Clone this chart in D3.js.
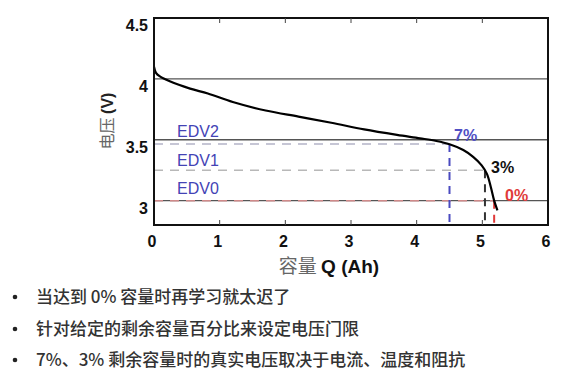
<!DOCTYPE html>
<html><head><meta charset="utf-8">
<script src="https://cdn.jsdelivr.net/npm/d3@7"></script>
<style>
html,body{margin:0;padding:0;background:#fff;}
svg{display:block;}
</style></head>
<body>
<svg id="c" width="583" height="384"></svg>
<script>
// ---- data ----
const capacityQ = [0, 0.03, 0.09, 0.24, 0.55, 0.82, 1.2, 1.7, 2.2, 2.7, 3.2, 3.7, 4.05, 4.3, 4.5, 4.71, 4.86, 4.99, 5.07, 5.13, 5.18, 5.23];
const voltageV  = [4.10, 4.05, 4.02, 3.98, 3.92, 3.88, 3.81, 3.74, 3.69, 3.64, 3.585, 3.54, 3.512, 3.49, 3.463, 3.416, 3.36, 3.29, 3.22, 3.11, 3.0, 2.92];
const xTicks = [0, 1, 2, 3, 4, 5, 6];
const yTicks = [3, 3.5, 4, 4.5];
const gridValues = [3, 3.5, 4];
const edvNames = ["EDV2", "EDV1", "EDV0"];
const edvVoltage = [3.465, 3.25, 3.0];
const edvCapacity = [4.5, 5.04, 5.18];
const edvPercent = ["7%", "3%", "0%"];
const bullets = [
  "当达到 0% 容量时再学习就太迟了",
  "针对给定的剩余容量百分比来设定电压门限",
  "7%、3% 剩余容量时的真实电压取决于电流、温度和阻抗"
];

const svg = d3.select("#c");
const x = d3.scaleLinear().domain([0, 6]).range([154, 548]);
const y = d3.scaleLinear().domain([2.8, 4.5]).range([225, 18]);

const edvColors = ["#4a4ac0", "#333", "#e03a3a"];
const hDashColors = ["#b4b4c8", "#b8b8b8", "#d08a8a"];

// grid lines
svg.append("g").selectAll("line").data(gridValues).join("line")
  .attr("x1", x(0)).attr("x2", x(6))
  .attr("y1", d => y(d)).attr("y2", d => y(d))
  .attr("stroke", "#555").attr("stroke-width", 1.3);

// horizontal dashed EDV lines
svg.append("g").selectAll("line").data(edvVoltage).join("line")
  .attr("x1", x(0)).attr("x2", (d, i) => x(edvCapacity[i]))
  .attr("y1", d => y(d)).attr("y2", d => y(d))
  .attr("stroke", (d, i) => hDashColors[i]).attr("stroke-width", 1.5)
  .attr("stroke-dasharray", "9,7");

// vertical dashed lines
svg.append("g").selectAll("line").data(edvCapacity).join("line")
  .attr("x1", d => x(d)).attr("x2", d => x(d))
  .attr("y1", (d, i) => y(edvVoltage[i])).attr("y2", y(2.8))
  .attr("stroke", (d, i) => edvColors[i]).attr("stroke-width", 2)
  .attr("stroke-dasharray", "8,6");

// curve
const line = d3.line().x(d => x(d[0])).y(d => y(d[1])).curve(d3.curveCatmullRom.alpha(0.5));
svg.append("path").datum(capacityQ.map((q, i) => [q, voltageV[i]]))
  .attr("d", line).attr("fill", "none").attr("stroke", "#000").attr("stroke-width", 2.2);

// frame
svg.append("rect").attr("x", x(0)).attr("y", y(4.5))
  .attr("width", x(6) - x(0)).attr("height", y(2.8) - y(4.5))
  .attr("fill", "none").attr("stroke", "#111").attr("stroke-width", 2);

// inner ticks top/bottom
const inner = xTicks.slice(1, -1);
svg.append("g").selectAll("line").data(inner).join("line")
  .attr("x1", d => x(d)).attr("x2", d => x(d))
  .attr("y1", y(2.8)).attr("y2", y(2.8) - 5).attr("stroke", "#444").attr("stroke-width", 1);
svg.append("g").selectAll("line").data(inner).join("line")
  .attr("x1", d => x(d)).attr("x2", d => x(d))
  .attr("y1", y(4.5)).attr("y2", y(4.5) + 5).attr("stroke", "#444").attr("stroke-width", 1);

const tickFont = "'Liberation Sans Narrow', 'Liberation Sans', Arial, sans-serif";
// x tick labels
svg.append("g").selectAll("text").data(xTicks).join("text")
  .attr("x", d => x(d) - 2).attr("y", 247)
  .attr("text-anchor", "middle")
  .attr("font-family", tickFont).attr("font-weight", "bold").attr("font-size", 16)
  .attr("fill", "#111").text(d => d);
// y tick labels
svg.append("g").selectAll("text").data(yTicks).join("text")
  .attr("x", 148).attr("y", d => y(d) + 13)
  .attr("text-anchor", "end")
  .attr("font-family", tickFont).attr("font-weight", "bold").attr("font-size", 16)
  .attr("fill", "#111").text(d => d);

// axis titles
const xt = svg.append("text").attr("x", 329).attr("y", 273).attr("text-anchor", "middle")
  .attr("font-size", 19);
xt.append("tspan").attr("font-family", "'Noto Sans CJK SC', sans-serif").attr("fill", "#666").text("容量 ");
xt.append("tspan").attr("font-family", "'Liberation Sans', Arial, sans-serif").attr("font-weight", "bold").attr("fill", "#111").text("Q (Ah)");

const yt = svg.append("text").attr("transform", "translate(113,121) rotate(-90)")
  .attr("text-anchor", "middle").attr("font-size", 16);
yt.append("tspan").attr("font-family", "'Noto Sans CJK SC', sans-serif").attr("fill", "#666").text("电压 ");
yt.append("tspan").attr("font-family", "'Liberation Sans Narrow', 'Liberation Sans', sans-serif").attr("font-weight", "bold").attr("fill", "#222").text("(V)");

// EDV labels
const edvLabelY = [137, 166, 194];
svg.append("g").selectAll("text").data(edvNames).join("text")
  .attr("x", 177).attr("y", (d, i) => edvLabelY[i])
  .attr("font-family", "'Liberation Sans', Arial, sans-serif").attr("font-size", 16)
  .attr("fill", "#4343b5").text(d => d);

// percent labels
const pctPos = [[454, 141], [491, 173], [505, 201]];
const pctColors = ["#5050c4", "#111", "#e03a3a"];
svg.append("g").selectAll("text").data(edvPercent).join("text")
  .attr("x", (d, i) => pctPos[i][0]).attr("y", (d, i) => pctPos[i][1])
  .attr("font-family", tickFont).attr("font-weight", "bold").attr("font-size", 16)
  .attr("fill", (d, i) => pctColors[i]).text(d => d);

// bullets
const by = [303, 335, 366];
const bg = svg.append("g");
bg.selectAll("circle").data(bullets).join("circle")
  .attr("cx", 15).attr("cy", (d, i) => by[i] - 6).attr("r", 2.3).attr("fill", "#222");
bg.selectAll("text").data(bullets).join("text")
  .attr("x", 36).attr("y", (d, i) => by[i])
  .attr("font-family", "'Noto Sans CJK SC', sans-serif").attr("font-size", 17)
  .attr("font-weight", 500)
  .attr("fill", "#333").text(d => d);
</script>
</body></html>
